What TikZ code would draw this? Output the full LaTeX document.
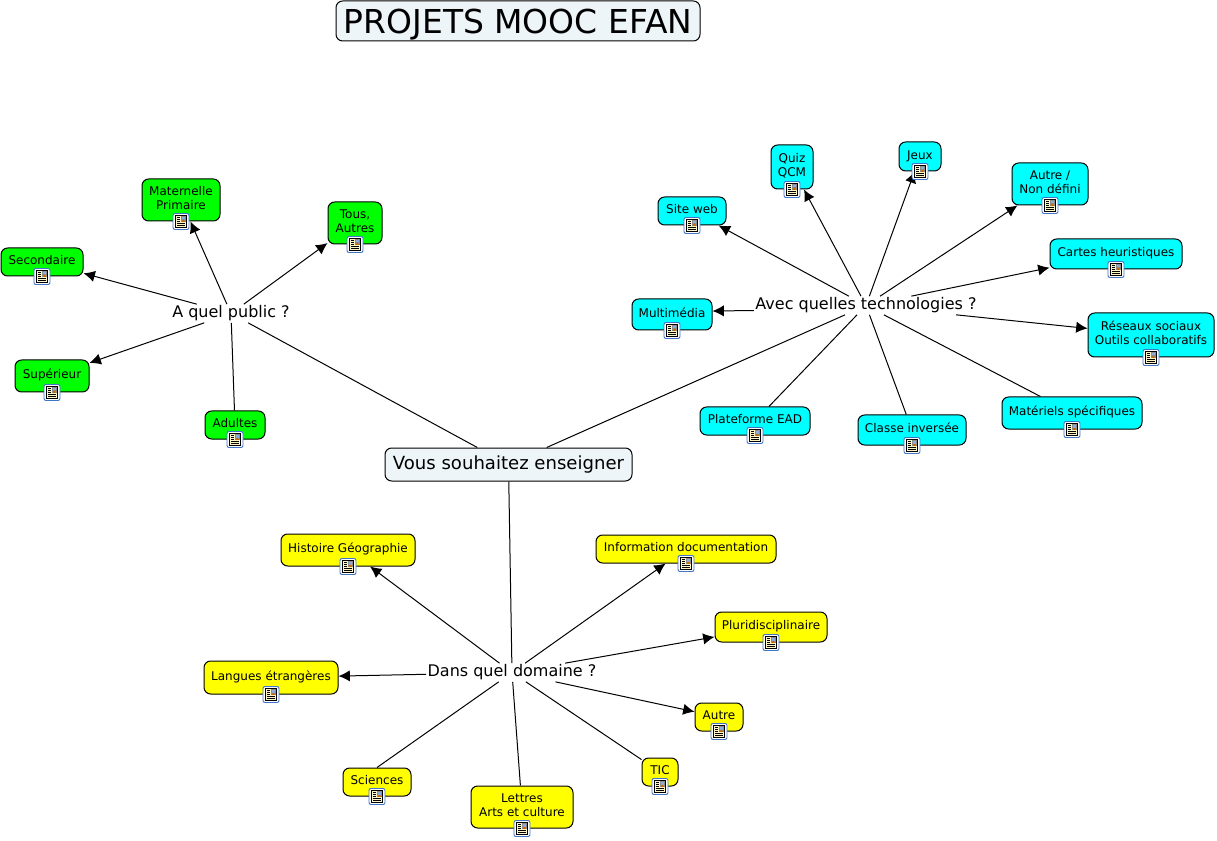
\documentclass[tikz,border=0pt]{standalone}
\usepackage{fontspec}
\setmainfont{DejaVu Sans}
\usetikzlibrary{arrows.meta}
\definecolor{headfill}{HTML}{EEF5F8}
\definecolor{iconblue}{HTML}{3F74C8}
\definecolor{iconpage}{HTML}{FFF6C8}
\definecolor{boxgreen}{HTML}{00FF00}
\definecolor{boxcyan}{HTML}{00FFFF}
\definecolor{boxyellow}{HTML}{FFFF00}
\newcommand{\lbl}[1]{\begin{tabular}{@{}c@{}}#1\end{tabular}}

\begin{document}
\begin{tikzpicture}[x=0.75pt,y=-0.75pt,
  concept/.style 2 args={draw=black, rounded corners=5pt, line width=0.75pt,
                         inner sep=0pt, font=\fontsize{9}{10.7}\selectfont,
                         minimum width=#1*0.75pt, minimum height=#2*0.75pt},
  green box/.style={fill=boxgreen},
  cyan box/.style={fill=boxcyan},
  yellow box/.style={fill=boxyellow},
  head/.style={draw=black, fill=headfill, rounded corners=5pt, line width=0.75pt, inner sep=0pt},
  question/.style={inner sep=1pt, font=\fontsize{12}{14}\selectfont},
  link/.style={line width=0.75pt},
  linkto/.style={line width=0.75pt, -{Latex[length=8.5pt,width=8.5pt]}},
  docicon/.pic={
    \draw[iconblue, fill=white, line width=0.7pt, rounded corners=1.5pt] (-8,-8) rectangle (8,8);
    \draw[black, fill=iconpage, line width=0.5pt] (-5.5,-6) rectangle (5.5,6);
    \draw[black, line width=0.5pt] (-4,-3.8) -- (-0.8,-3.8) (-4,-1.8) -- (-0.8,-1.8) (-4,0.2) -- (-0.8,0.2)
      (-4,2.2) -- (4,2.2) (-4,4.2) -- (4,4.2);
    \fill[black!45] (0,-5.2) rectangle (4.6,0.4);
    \fill[iconblue!60] (1,-4.6) rectangle (4.2,-2);
    \fill[orange!80!black] (0.6,0.4) -- (2.2,-2) -- (4,0.4) -- cycle;
  }]
\useasboundingbox (0,0) rectangle (1217,841);

% title and centre
\node[head, minimum width=364*0.75pt, minimum height=40*0.75pt,
      text height=18.6pt, text depth=0pt, font=\fontsize{24.7}{28}\selectfont] (titre) at (518,21) {PROJETS MOOC EFAN};
\node[head, minimum width=247*0.75pt, minimum height=33*0.75pt,
      text height=10pt, text depth=2pt, font=\fontsize{13.55}{15}\selectfont] (centre) at (508.5,464.5) {Vous souhaitez enseigner};

% questions
\node[question] (public) at (231,313.5) {A quel public ?};
\node[question] (techno) at (866,305.5) {Avec quelles technologies ?};
\node[question] (domaine) at (512,672.5) {Dans quel domaine ?};

% public
\node[concept={78}{42}, green box] (maternelle) at (181,200) {\lbl{Maternelle\\Primaire}};
\node[concept={54}{42}, green box] (tous) at (355,223) {\lbl{Tous,\\Autres}};
\node[concept={82}{28}, green box] (secondaire) at (42,262) {\lbl{Secondaire}};
\node[concept={74}{32}, green box] (superieur) at (52,376) {\lbl{Supérieur}};
\node[concept={60}{28}, green box] (adultes) at (235,425) {\lbl{Adultes}};

% technologies
\node[concept={68}{28}, cyan box] (siteweb) at (692,211) {\lbl{Site web}};
\node[concept={42}{44}, cyan box] (quiz) at (792,167) {\lbl{Quiz\\QCM}};
\node[concept={42}{29}, cyan box] (jeux) at (920,156.5) {\lbl{Jeux}};
\node[concept={76}{42}, cyan box] (autrenon) at (1050,184) {\lbl{Autre /\\Non défini}};
\node[concept={132}{30}, cyan box] (cartes) at (1116,254) {\lbl{Cartes heuristiques}};
\node[concept={126}{44}, cyan box] (reseaux) at (1151,335) {\lbl{Réseaux sociaux\\Outils collaboratifs}};
\node[concept={140}{32}, cyan box] (materiels) at (1072,413) {\lbl{Matériels spécifiques}};
\node[concept={108}{30}, cyan box] (classe) at (912,430) {\lbl{Classe inversée}};
\node[concept={110}{28}, cyan box] (plateforme) at (755,421) {\lbl{Plateforme EAD}};
\node[concept={80}{31}, cyan box] (multimedia) at (672,314.5) {\lbl{Multimédia}};

% domaines
\node[concept={134}{32}, yellow box] (histoire) at (348,550) {\lbl{Histoire Géographie}};
\node[concept={180}{28}, yellow box] (information) at (686,549) {\lbl{Information documentation}};
\node[concept={112}{30}, yellow box] (pluri) at (771,627) {\lbl{Pluridisciplinaire}};
\node[concept={48}{28}, yellow box] (autre) at (719,717) {\lbl{Autre}};
\node[concept={36}{28}, yellow box] (tic) at (660,772) {\lbl{TIC}};
\node[concept={102}{42}, yellow box] (lettres) at (522,807) {\lbl{Lettres\\Arts et culture}};
\node[concept={68}{28}, yellow box] (sciences) at (377,782) {\lbl{Sciences}};
\node[concept={134}{33}, yellow box] (langues) at (271,677.5) {\lbl{Langues étrangères}};

\draw[link] (centre) -- (public);
\draw[link] (centre) -- (techno);
\draw[link] (centre) -- (domaine);

\foreach \n in {maternelle,tous,secondaire,superieur}
  \draw[linkto] (public) -- (\n);
\draw[link] (public) -- (adultes);

\foreach \n in {siteweb,quiz,jeux,autrenon,cartes,reseaux}
  \draw[linkto] (techno) -- (\n);
\draw[linkto] ([yshift=-3.75pt]techno.west) -- ([yshift=2.6pt]multimedia.east);
\foreach \n in {materiels,classe,plateforme}
  \draw[link] (techno) -- (\n);

\foreach \n in {histoire,information,pluri,autre,langues}
  \draw[linkto] (domaine) -- (\n);
\foreach \n in {tic,lettres}
  \draw[link] (domaine) -- (\n);
\draw[link] (domaine) -- (sciences.north);

% resource icons
\foreach \n in {maternelle,tous,secondaire,superieur,adultes,
                siteweb,quiz,jeux,autrenon,cartes,reseaux,materiels,classe,plateforme,multimedia,
                histoire,information,pluri,autre,tic,lettres,sciences,langues}
  \pic at (\n.south) {docicon};

\end{tikzpicture}
\end{document}
